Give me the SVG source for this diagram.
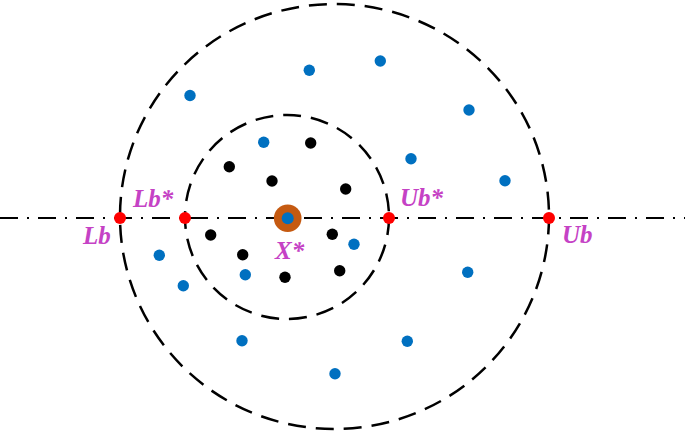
<svg xmlns="http://www.w3.org/2000/svg" width="685" height="431" viewBox="0 0 685 431">
<style>
.bd{fill:#0070c0}
.kd{fill:#000}
.rd{fill:#ff0000}
.lbl{font-family:"Liberation Serif",serif;font-weight:bold;font-style:italic;font-size:25px;fill:#c542c5}
.circ{fill:none;stroke:#000;stroke-width:2.5;stroke-dasharray:18 10}
</style>
<rect width="685" height="431" fill="#fff"/>
<g id="connectors">
<line x1="0" y1="218" x2="685" y2="218" stroke="#000" stroke-width="2" stroke-dasharray="18 9 2 9"/>
</g>
<g id="outer-circle"><ellipse class="circ" cx="334.5" cy="216.5" rx="214.5" ry="212.5"/></g>
<g id="inner-circle"><circle class="circ" cx="287" cy="217" r="102"/></g>
<g id="blue-points">
<circle class="bd" cx="190" cy="95.5" r="5.7"/>
<circle class="bd" cx="309.3" cy="70.3" r="5.7"/>
<circle class="bd" cx="380.3" cy="61" r="5.7"/>
<circle class="bd" cx="469" cy="110" r="5.7"/>
<circle class="bd" cx="263.7" cy="142.3" r="5.7"/>
<circle class="bd" cx="411" cy="158.7" r="5.7"/>
<circle class="bd" cx="505" cy="180.7" r="5.7"/>
<circle class="bd" cx="354" cy="244.3" r="5.7"/>
<circle class="bd" cx="159.3" cy="255.3" r="5.7"/>
<circle class="bd" cx="245.3" cy="274.7" r="5.7"/>
<circle class="bd" cx="183.3" cy="285.7" r="5.7"/>
<circle class="bd" cx="467.7" cy="272.3" r="5.7"/>
<circle class="bd" cx="242" cy="340.7" r="5.7"/>
<circle class="bd" cx="407.3" cy="341.3" r="5.7"/>
<circle class="bd" cx="335" cy="373.7" r="5.7"/>
</g>
<g id="black-points">
<circle class="kd" cx="310.7" cy="143" r="5.7"/>
<circle class="kd" cx="229.3" cy="166.7" r="5.7"/>
<circle class="kd" cx="272" cy="181" r="5.7"/>
<circle class="kd" cx="345.7" cy="189" r="5.7"/>
<circle class="kd" cx="210.7" cy="235" r="5.7"/>
<circle class="kd" cx="332.3" cy="234.3" r="5.7"/>
<circle class="kd" cx="242.7" cy="254.7" r="5.7"/>
<circle class="kd" cx="285" cy="277.3" r="5.7"/>
<circle class="kd" cx="339.7" cy="270.7" r="5.7"/>
</g>
<g id="bounds">
<circle class="rd" cx="120" cy="218" r="6"/>
<circle class="rd" cx="185" cy="218" r="6"/>
<circle class="rd" cx="389" cy="218" r="6"/>
<circle class="rd" cx="549" cy="218" r="6"/>
</g>
<g id="x-star">
<circle cx="287.7" cy="218.3" r="13.8" fill="#c55a11"/>
<circle cx="287.7" cy="218.3" r="6" fill="#0070c0"/>
</g>
<g id="labels">
<text class="lbl" x="133" y="207">Lb*</text>
<text class="lbl" x="83" y="244">Lb</text>
<text class="lbl" x="400" y="206">Ub*</text>
<text class="lbl" x="562" y="243">Ub</text>
<text class="lbl" x="275" y="259">X*</text>
</g>
</svg>
